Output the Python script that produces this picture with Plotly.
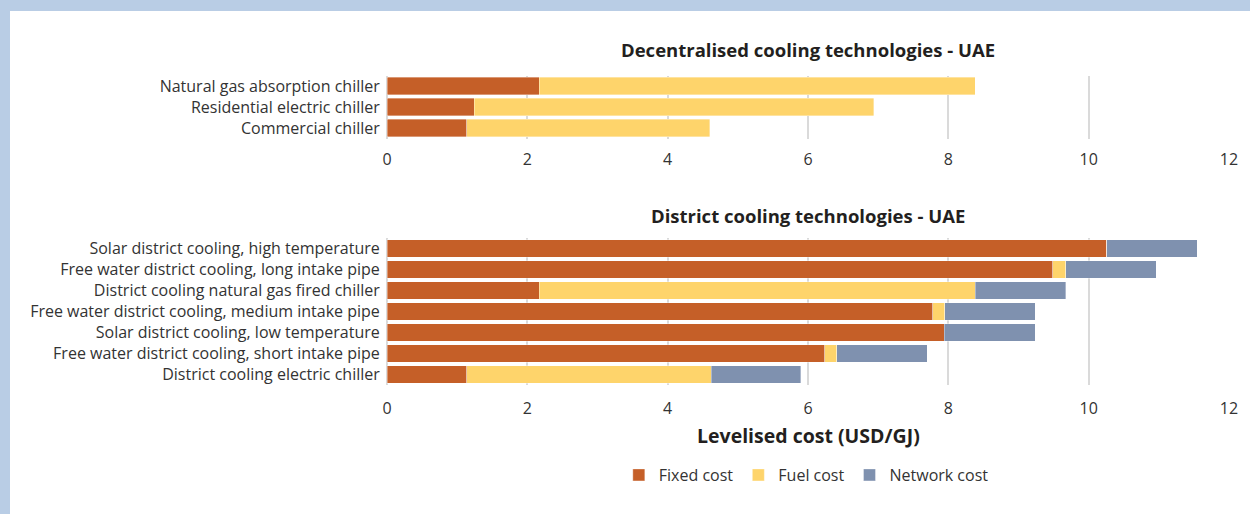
"""Levelised cost of cooling technologies in the UAE (stacked horizontal bars)."""

import plotly.graph_objects as go

# Decentralised cooling technologies (top panel), listed bottom to top
decentral_names = [
    "Commercial chiller",
    "Residential electric chiller",
    "Natural gas absorption chiller",
]
decentral_fixed = [1.14, 1.24, 2.17]
decentral_fuel = [3.46, 5.70, 6.21]

# District cooling technologies (bottom panel), listed bottom to top
district_names = [
    "District cooling electric chiller",
    "Free water district cooling, short intake pipe",
    "Solar district cooling, low temperature",
    "Free water district cooling, medium intake pipe",
    "District cooling natural gas fired chiller",
    "Free water district cooling, long intake pipe",
    "Solar district cooling, high temperature",
]
district_fixed = [1.14, 6.24, 7.94, 7.78, 2.17, 9.49, 10.26]
district_fuel = [3.48, 0.17, 0.0, 0.17, 6.21, 0.18, 0.0]
district_network = [1.28, 1.29, 1.30, 1.29, 1.29, 1.29, 1.29]

x_ticks = [0, 2, 4, 6, 8, 10, 12]

FIXED = "#c55f28"
FUEL = "#fed46b"
NETWORK = "#7f91af"
GRID = "#dadada"
TEXT = "#333333"
FONT = "Open Sans"

W, H = 1250, 514
L, R = 387, 21


def py(px):
    """Pixel row -> paper fraction (no top/bottom margin)."""
    return 1 - px / H


def pxx(px):
    """Pixel column -> paper fraction."""
    return (px - L) / (W - L - R)


fig = go.Figure()

edge = dict(color="rgba(255,255,255,0.6)", width=0.6)

fig.add_trace(go.Bar(y=decentral_names, x=decentral_fixed, orientation="h",
                     marker=dict(color=FIXED, line=edge), name="Fixed cost",
                     xaxis="x", yaxis="y", showlegend=False))
fig.add_trace(go.Bar(y=decentral_names, x=decentral_fuel, orientation="h",
                     marker=dict(color=FUEL, line=edge), name="Fuel cost",
                     xaxis="x", yaxis="y", showlegend=False))

fig.add_trace(go.Bar(y=district_names, x=district_fixed, orientation="h",
                     marker=dict(color=FIXED, line=edge), name="Fixed cost",
                     xaxis="x2", yaxis="y2"))
fig.add_trace(go.Bar(y=district_names, x=district_fuel, orientation="h",
                     marker=dict(color=FUEL, line=edge), name="Fuel cost",
                     xaxis="x2", yaxis="y2"))
fig.add_trace(go.Bar(y=district_names, x=district_network, orientation="h",
                     marker=dict(color=NETWORK, line=edge), name="Network cost",
                     xaxis="x2", yaxis="y2"))

xaxis_common = dict(
    range=[0, 12], tickvals=x_ticks, showgrid=True, gridcolor=GRID, gridwidth=2,
    zeroline=True, zerolinecolor=GRID, zerolinewidth=2, showline=False,
    ticks="outside", tickcolor="rgba(0,0,0,0)",
    tickfont=dict(size=16, color=TEXT, family=FONT), fixedrange=True,
)
yaxis_common = dict(
    showgrid=False, showline=False, ticks="outside", ticklen=3,
    tickcolor="rgba(0,0,0,0)", tickfont=dict(size=16, color=TEXT, family=FONT),
    automargin=False,
)

fig.update_layout(
    width=W, height=H,
    barmode="stack", bargap=0.17,
    paper_bgcolor="white", plot_bgcolor="white",
    margin=dict(l=L, r=R, t=0, b=0),
    font=dict(family=FONT, color=TEXT),
    xaxis=dict(domain=[0, 1], anchor="y", ticklen=6, **xaxis_common),
    yaxis=dict(domain=[py(138.5), py(75.5)], anchor="x", **yaxis_common),
    xaxis2=dict(domain=[0, 1], anchor="y2", ticklen=9, **xaxis_common),
    yaxis2=dict(domain=[py(385), py(238)], anchor="x2", **yaxis_common),
    legend=dict(orientation="h", x=0.498, xanchor="center", y=py(475),
                yanchor="middle", font=dict(size=16, color=TEXT, family=FONT),
                traceorder="normal"),
    showlegend=True,
)

title_font = dict(size=18.5, color="#231f20", family=FONT)
fig.add_annotation(text="<b>Decentralised cooling technologies - UAE</b>",
                   xref="paper", yref="paper", x=0.5, y=py(50),
                   showarrow=False, font=title_font, yanchor="middle")
fig.add_annotation(text="<b>District cooling technologies - UAE</b>",
                   xref="paper", yref="paper", x=0.5, y=py(215),
                   showarrow=False, font=title_font, yanchor="middle")
fig.add_annotation(text="<b>Levelised cost (USD/GJ)</b>",
                   xref="paper", yref="paper", x=0.5, y=py(435),
                   showarrow=False, font=dict(title_font, size=19.5),
                   yanchor="middle")

# light blue frame on the top and left edges
BLUE = "#b9cde5"
fig.add_shape(type="rect", xref="paper", yref="paper", x0=pxx(0), x1=pxx(W),
              y0=py(11), y1=py(0), fillcolor=BLUE, line=dict(width=0))
fig.add_shape(type="rect", xref="paper", yref="paper", x0=pxx(0), x1=pxx(10),
              y0=py(H), y1=py(0), fillcolor=BLUE, line=dict(width=0))

# drop the default page margin so the figure sits at the window corner
fig.write_html("out.html", config={"displayModeBar": False},
               post_script="document.body.style.margin='0px';"
                           "document.body.style.overflow='hidden';")
